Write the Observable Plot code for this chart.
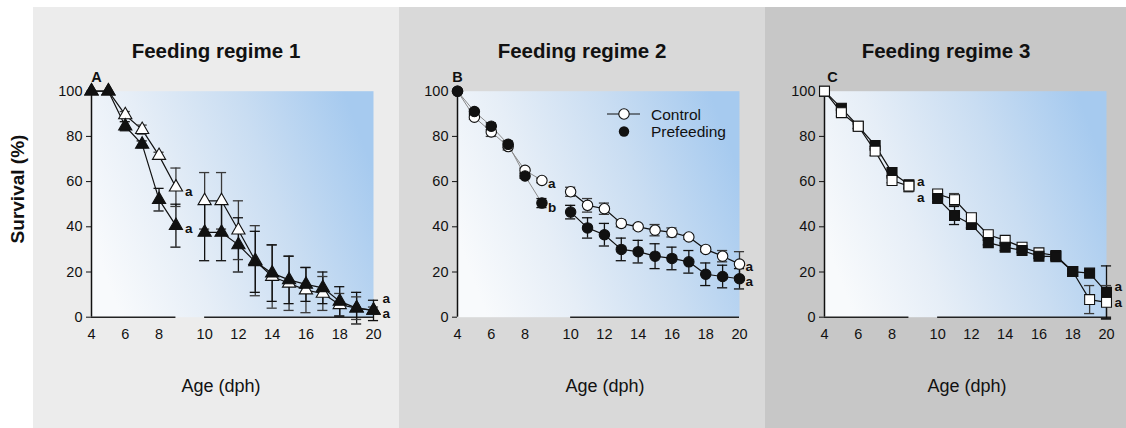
<!DOCTYPE html>
<html>
<head>
<meta charset="utf-8">
<script src="https://cdn.jsdelivr.net/npm/d3@7"></script>
<script src="https://cdn.jsdelivr.net/npm/@observablehq/plot@0.6"></script>
<style>
  html, body { margin: 0; padding: 0; background: #ffffff; }
  #fig { position: relative; width: 1126px; height: 428px; overflow: hidden;
         font-family: "Liberation Sans", Arial, sans-serif; }
  .bg { position: absolute; top: 7px; height: 421px; }
  .plot { position: absolute; top: 0; }
  #overlay { position: absolute; left: 0; top: 0; pointer-events: none; }
</style>
</head>
<body>
<div id="fig"></div>
<script>
// Age in days post hatch (dph)
const ages = [4, 5, 6, 7, 8, 9, 10, 11, 12, 13, 14, 15, 16, 17, 18, 19, 20];
const tickAges = [4, 6, 8, 10, 12, 14, 16, 18, 20];
const yTicks = [0, 20, 40, 60, 80, 100];

// Feeding regime 1 – survival (%) and error
const r1Control   = [100, 100, 89.5, 83, 71.5, 57.5, 51.5, 51.5, 38.5, 25, 18, 15, 12, 10.5, 5.5, 4, 3];
const r1ControlSE = [0, 0, 1.5, 2, 1.5, 8.5, 12.5, 12.5, 13, 15.5, 14, 12, 10, 7.5, 5, 5, 1.5];
const r1Prefeed   = [100, 100, 84.5, 76.5, 52, 40.5, 37.5, 37.5, 32, 24.5, 19.5, 16.5, 14.5, 13, 7, 4, 3];
const r1PrefeedSE = [0, 0, 2, 1.5, 5, 9.5, 12.5, 12.5, 12, 13.5, 12.5, 10.5, 7.5, 7, 6.5, 7, 4.5];

// Feeding regime 2
const r2Control   = [100, 88.5, 82, 75.5, 65, 60.5, 55.5, 49.5, 48, 41.5, 40, 38.5, 37.5, 35.5, 30, 27, 23.5];
const r2ControlSE = [0, 1, 2, 1.5, 1, 1, 2, 3, 2.5, 1.5, 1, 2.5, 2, 1, 1, 2.5, 5.5];
const r2Prefeed   = [100, 91, 84.5, 76.5, 62.5, 50.5, 46.5, 39.5, 36.5, 30, 29, 27, 26, 24.5, 19, 18, 17];
const r2PrefeedSE = [0, 1, 1.5, 1.5, 1, 2, 3, 4.5, 5, 5, 5, 5.5, 5, 5, 5, 5, 4.5];

// Feeding regime 3
const r3Control   = [100, 90.5, 84.5, 73.5, 60.5, 58, 54.5, 52, 44, 36.5, 34, 31, 28.5, 27.3, 20.2, 7.8, 6.6];
const r3ControlSE = [0, 1.5, 1, 2, 1, 2.5, 1.5, 2.7, 1.5, 1, 1, 1, 1, 1, 1, 6.2, 7.4];
const r3Prefeed   = [100, 92.5, 84.5, 76, 64, 58.6, 52.5, 45, 41, 33, 31, 29.5, 27, 26.8, 20.2, 19.5, 11];
const r3PrefeedSE = [0, 1, 1, 1.5, 1.5, 1.5, 1.5, 4, 1.5, 1, 1.5, 1, 1, 1, 1, 1, 11.7];

// Significance letters (age, level, letter)
const r1SigAge = [9, 9, 20, 20];   const r1SigY = [55.5, 39, 8, 1.5];     const r1SigText = ["a", "a", "a", "a"];
const r2SigAge = [9, 9, 20, 20];   const r2SigY = [59, 48.5, 22.5, 15.5]; const r2SigText = ["a", "b", "a", "a"];
const r3SigAge = [9, 9, 20, 20];   const r3SigY = [60, 53, 13.6, 6.6];    const r3SigText = ["a", "a", "a", "a"];

const titles = ["Feeding regime 1", "Feeding regime 2", "Feeding regime 3"];
const letters = ["A", "B", "C"];
const seriesNames = ["Control", "Prefeeding"];

// Axis break between 9 and 10 dph
const GAP = 0.7;
const pos = (a) => (a >= 10 ? a + GAP : a);
const CAP = 0.3;
const FONT = '"Liberation Sans", Arial, sans-serif';

const fig = document.getElementById("fig");

function rowsFor(name, values, errors) {
  return ages.map((a, i) => ({
    series: name, age: a, x: pos(a), y: values[i], se: errors[i],
    seg: a <= 9 ? "early" : "late"
  }));
}

function buildPanel(cfg) {
  const bg = document.createElement("div");
  bg.className = "bg";
  bg.style.left = cfg.left + "px";
  bg.style.width = cfg.bgWidth + "px";
  bg.style.background = cfg.bg;
  fig.appendChild(bg);

  const control = rowsFor("Control", cfg.control, cfg.controlSE);
  const prefeed = rowsFor("Prefeeding", cfg.prefeed, cfg.prefeedSE);
  const all = control.concat(prefeed);
  const withErr = all.filter((d) => d.se > 0);
  const caps = withErr.flatMap((d) => [
    { x: d.x, y: d.y + d.se, series: d.series },
    { x: d.x, y: d.y - d.se, series: d.series }
  ]);
  // drawing order of the markers: the series returned by cfg.onTop is drawn last
  const markers = [];
  ages.forEach((a, i) => {
    const top = cfg.onTop(a);
    const pair = [control[i], prefeed[i]];
    if (top === "Control") pair.reverse();
    markers.push(...pair);
  });
  const sig = cfg.sigAge.map((a, i) => ({ x: pos(a), y: cfg.sigY[i], text: cfg.sigText[i] }));
  const errColor = (d) => (d.series === "Control" ? "#3a3a3a" : "#111");

  const width = 366, plotW = 282;
  const gradId = "grad-" + cfg.key;

  const marks = [
    Plot.frame({ fill: `url(#${gradId})`, stroke: "none" }),
    Plot.ruleX([4], { y1: 0, y2: 100, stroke: "#111", strokeWidth: 1.5 }),
    ...cfg.axisSegments.map(([a, b]) =>
      Plot.ruleY([0], { x1: a, x2: b, stroke: "#222", strokeWidth: 1.5 })),
    Plot.axisY(yTicks, { tickSize: 5, tickPadding: 4, fontSize: 14.5, label: null }),
    Plot.axisX(tickAges.map(pos), {
      tickSize: 0, tickPadding: 12, fontSize: 14.5, label: null,
      tickFormat: (d) => String(d >= 10 ? Math.round(d - GAP) : d)
    }),
    // lines, split at the axis break
    Plot.line(all.filter((d) => d.seg === "early"), {
      x: "x", y: "y", z: "series", stroke: cfg.earlyStroke, strokeWidth: cfg.earlyWidth
    }),
    Plot.line(all.filter((d) => d.seg === "late"), {
      x: "x", y: "y", z: "series", stroke: "#111", strokeWidth: 1.2
    }),
    // error bars with caps
    Plot.ruleX(withErr, {
      x: "x", y1: (d) => d.y - d.se, y2: (d) => d.y + d.se, stroke: errColor, strokeWidth: 1.3
    }),
    Plot.ruleY(caps, {
      y: "y", x1: (d) => d.x - CAP, x2: (d) => d.x + CAP, stroke: errColor, strokeWidth: 1.3
    }),
    // markers: open = Control, filled = Prefeeding
    Plot.dot(markers, {
      x: "x", y: "y", symbol: cfg.symbol, r: cfg.r,
      fill: (d) => (d.series === "Control" ? "white" : "#111"),
      stroke: "#111", strokeWidth: 1.1
    }),
    Plot.text(sig, {
      x: "x", y: "y", text: "text", dx: cfg.sigDx, textAnchor: "start",
      fontWeight: "bold", fontSize: 13.5, fill: "#111"
    }),
    Plot.text([cfg.letter], {
      frameAnchor: "top-left", dx: cfg.letterDx, dy: -14,
      textAnchor: "middle", lineAnchor: "middle",
      fontWeight: "bold", fontSize: 14.5, fill: "#111"
    })
  ];

  const svg = Plot.plot({
    width, height: 428,
    marginLeft: cfg.marginLeft, marginRight: width - cfg.marginLeft - plotW,
    marginTop: 90.7, marginBottom: 111.3,
    x: { type: "linear", domain: [4, pos(20)] },
    y: { domain: [0, 100] },
    color: { type: "identity" },
    style: { background: "transparent", color: "#111", fontFamily: FONT, overflow: "visible" },
    marks
  });
  svg.classList.add("plot");
  svg.style.left = cfg.left + "px";
  svg.style.position = "absolute";

  // plot-area background gradient (white to light blue)
  const ns = "http://www.w3.org/2000/svg";
  const defs = document.createElementNS(ns, "defs");
  const lg = document.createElementNS(ns, "linearGradient");
  lg.setAttribute("id", gradId);
  lg.setAttribute("x1", "0"); lg.setAttribute("y1", "0.65");
  lg.setAttribute("x2", "1"); lg.setAttribute("y2", "0.35");
  [[0, "#f8fafc"], [0.3, "#e6eef7"], [0.65, "#c9ddf2"], [1, "#a6caef"]].forEach(([o, c]) => {
    const s = document.createElementNS(ns, "stop");
    s.setAttribute("offset", o); s.setAttribute("stop-color", c);
    lg.appendChild(s);
  });
  defs.appendChild(lg);
  svg.insertBefore(defs, svg.firstChild);
  fig.appendChild(svg);
}

buildPanel({
  key: "r1", left: 33, bgWidth: 366, bg: "#ececec", marginLeft: 58,
  symbol: "triangle", r: 4.9,
  control: r1Control, controlSE: r1ControlSE, prefeed: r1Prefeed, prefeedSE: r1PrefeedSE,
  sigAge: r1SigAge, sigY: r1SigY, sigText: r1SigText, sigDx: 9,
  letter: letters[0], letterDx: 5,
  axisSegments: [[4, 9], [pos(10), pos(20)]],
  earlyStroke: "#111", earlyWidth: 1.2,
  onTop: () => "Prefeeding"
});
buildPanel({
  key: "r2", left: 399, bgWidth: 366, bg: "#d9d9d9", marginLeft: 58,
  symbol: "circle", r: 5.2,
  control: r2Control, controlSE: r2ControlSE, prefeed: r2Prefeed, prefeedSE: r2PrefeedSE,
  sigAge: r2SigAge, sigY: r2SigY, sigText: r2SigText, sigDx: 6,
  letter: letters[1], letterDx: 0,
  axisSegments: [[pos(10), pos(20)]],
  earlyStroke: "#8a8a8a", earlyWidth: 1,
  onTop: () => "Prefeeding"
});
buildPanel({
  key: "r3", left: 765, bgWidth: 361, bg: "#c7c7c7", marginLeft: 59,
  symbol: "square", r: 5.6,
  control: r3Control, controlSE: r3ControlSE, prefeed: r3Prefeed, prefeedSE: r3PrefeedSE,
  sigAge: r3SigAge, sigY: r3SigY, sigText: r3SigText, sigDx: 8,
  letter: letters[2], letterDx: 8,
  axisSegments: [[4, 9], [pos(10), pos(20) + 0.3]],
  earlyStroke: "#111", earlyWidth: 1.2,
  onTop: (a) => (a <= 9 || a === 12 ? "Control" : "Prefeeding")
});

// Titles, axis labels and legend
const overlay = d3.select(fig).append("svg")
  .attr("id", "overlay").attr("width", 1126).attr("height", 428)
  .style("font-family", FONT);

const titleX = [216, 582, 946];
titles.forEach((t, i) => {
  overlay.append("text").attr("x", titleX[i]).attr("y", 57.5)
    .attr("text-anchor", "middle").attr("font-size", 20.5).attr("font-weight", "bold")
    .attr("fill", "#111").text(t);
});

const xLabelX = [221, 605, 967];
xLabelX.forEach((x) => {
  overlay.append("text").attr("x", x).attr("y", 392)
    .attr("text-anchor", "middle").attr("font-size", 18).attr("fill", "#111")
    .text("Age (dph)");
});

overlay.append("text")
  .attr("transform", "translate(24,189) rotate(-90)")
  .attr("text-anchor", "middle").attr("font-size", 19).attr("font-weight", "bold")
  .attr("fill", "#111").text("Survival (%)");

// Legend (regime 2)
const lg = overlay.append("g").attr("transform", "translate(624,114)");
lg.append("line").attr("x1", -17).attr("x2", 16).attr("y1", 0).attr("y2", 0)
  .attr("stroke", "#111").attr("stroke-width", 1);
lg.append("circle").attr("r", 5.2).attr("fill", "white").attr("stroke", "#111").attr("stroke-width", 1.1);
lg.append("text").attr("x", 27).attr("y", 5.5).attr("font-size", 15.5).attr("fill", "#111").text(seriesNames[0]);
lg.append("circle").attr("cy", 17.5).attr("r", 5.2).attr("fill", "#111");
lg.append("text").attr("x", 27).attr("y", 23).attr("font-size", 15.5).attr("fill", "#111").text(seriesNames[1]);
</script>
</body>
</html>
